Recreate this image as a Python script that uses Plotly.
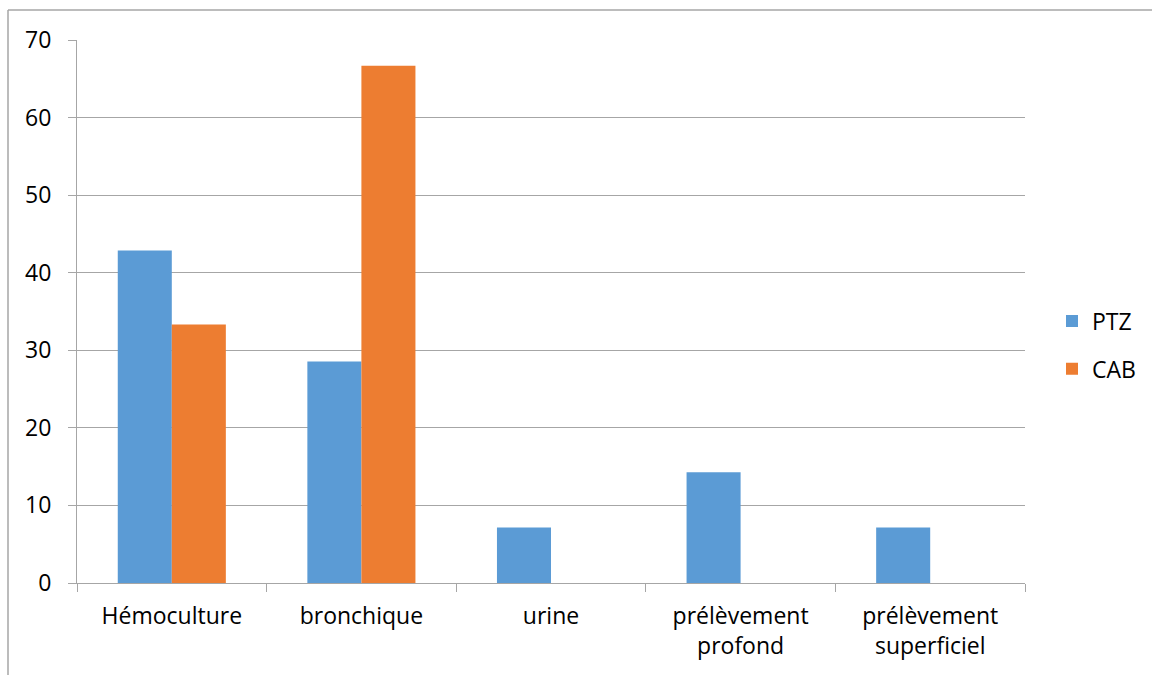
import plotly.graph_objects as go

categories = ["Hémoculture", "bronchique", "urine", "prélèvement<br>profond", "prélèvement<br>superficiel"]
ptz = [42.86, 28.57, 7.14, 14.29, 7.14]
cab = [33.33, 66.67, 0, 0, 0]
y_ticks = [0, 10, 20, 30, 40, 50, 60, 70]

W, H = 1152, 675
L, R, T, B = 77, 127, 40, 92
pw, ph = W - L - R, H - T - B

fig = go.Figure()
fig.add_trace(go.Bar(name="PTZ", x=categories, y=ptz, marker_color="#5B9BD5", marker_line_width=0, legendgroup="a"))
fig.add_trace(go.Bar(name="CAB", x=categories, y=cab, marker_color="#ED7D31", marker_line_width=0, legendgroup="b"))

grid = "#a6a6a6"
font = dict(family="Open Sans, Liberation Sans, sans-serif", size=23, color="#000000")

fig.update_layout(
    width=W, height=H,
    margin=dict(l=L, r=R, t=T, b=B, autoexpand=False),
    paper_bgcolor="white", plot_bgcolor="white",
    font=font,
    barmode="group", bargap=0.43, bargroupgap=0,
    legend=dict(x=(1052 - L) / pw, xanchor="left", y=(583 - 345) / ph, yanchor="middle",
                font=font, tracegroupgap=15, itemwidth=30, bgcolor="rgba(0,0,0,0)"),
    xaxis=dict(showline=True, linecolor=grid, linewidth=1, ticks="outside", tickson="boundaries",
               ticklen=8, tickcolor=grid, showgrid=False, tickfont=font, ticklabelstandoff=12),
    yaxis=dict(range=[0, 70], tickvals=y_ticks, showgrid=True, gridcolor=grid, gridwidth=1,
               showline=True, linecolor=grid, ticks="outside", ticklen=8, tickcolor=grid,
               zeroline=False, tickfont=font, ticklabelstandoff=12),
)

# chart area border (top and left edges visible)
x0 = (8 - L) / pw
y_top = (H - B - 10) / ph
fig.add_shape(type="line", xref="paper", yref="paper", x0=x0, x1=(W + 20 - L) / pw, y0=y_top, y1=y_top,
              line=dict(color=grid, width=1.5))
fig.add_shape(type="line", xref="paper", yref="paper", x0=x0, x1=x0, y0=y_top, y1=-(B + 20) / ph,
              line=dict(color=grid, width=1.5))

fig.write_html("out.html", config={"displayModeBar": False},
               post_script="document.body.style.margin='0';")
